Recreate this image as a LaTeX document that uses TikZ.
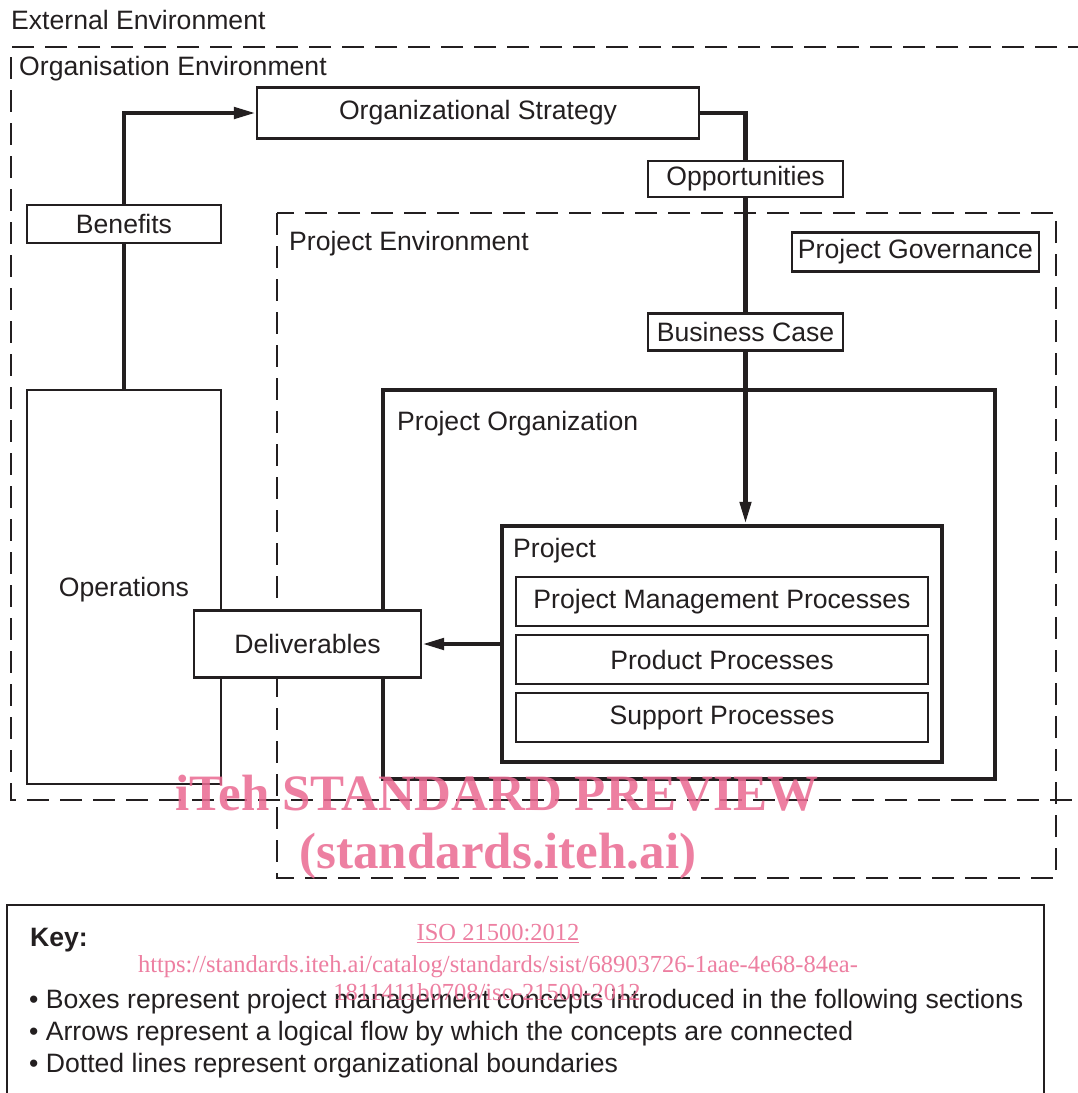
\documentclass[tikz,border=0pt]{standalone}
\usepackage{fontspec}
\setmainfont{Liberation Sans}
\newfontfamily\wmfont{Liberation Serif}
\usetikzlibrary{arrows.meta}
\definecolor{ink}{RGB}{35,31,32}
\definecolor{wmpink}{RGB}{234,105,145}
\begin{document}
\begin{tikzpicture}[x=1pt,y=-1pt,
  every node/.style={font=\fontsize{26.6}{30}\selectfont, text=ink},
  box/.style={draw=ink, line width=2.2pt, inner sep=0pt, fill=white},
  thickbox/.style={draw=ink, line width=4.5pt},
  envline/.style={draw=ink, line width=2.2pt, dash pattern=on 22pt off 11pt},
  flow/.style={draw=ink, line width=4.5pt},
  flowarrow/.style={draw=ink, line width=4.5pt, -{Triangle[length=22pt,width=11pt]}},
  lbl/.style={anchor=base west, inner sep=0pt},
  wm/.style={text=wmpink, opacity=0.85, inner sep=0pt, anchor=base}
]
\useasboundingbox (0,0) rectangle (1078,1093);
\fill[white] (0,0) rectangle (1078,1093);

% environments
\node[lbl] (extlbl) at (11,29) {External Environment};
\draw[envline] (1090,47) -- (11,47) -- (11,800) -- (1090,800);
\node[lbl] (orglbl) at (19,75) {Organisation Environment};
\draw[envline] (277,213) rectangle (1056,878);
\node[lbl] (prjenvlbl) at (289,250) {Project Environment};

% thick containers
\draw[thickbox] (383,390) rectangle (995,779);
\node[lbl] (porglbl) at (397,430) {Project Organization};
\node[thickbox, inner sep=0pt, minimum width=440pt, minimum height=236pt] (proj) at (722,644) {};
\node[lbl] (projlbl) at (513,557) {Project};

% boxes
\node[box, minimum width=442pt, minimum height=51pt] (strat) at (478,113) {Organizational Strategy};
\node[box, minimum width=194pt, minimum height=38pt] (ben) at (124,224) {Benefits};
\node[box, minimum width=194pt, minimum height=394pt] (ops) at (124,587) {};
\node[anchor=center, inner sep=0pt] (opslbl) at (124,590) {Operations};
\node[box, minimum width=195pt, minimum height=36pt] (opp) at (745.5,179) {Opportunities};
\node[box, minimum width=195pt, minimum height=37pt] (bcase) at (745.5,332) {Business Case};
\node[box, minimum width=247pt, minimum height=39pt] (gov) at (915.5,252) {Project Governance};
\node[box, minimum width=227pt, minimum height=67pt] (deliv) at (307.5,644) {Deliverables};
\node[box, minimum width=412pt, minimum height=49pt] (pmp) at (722,601.5) {Project Management Processes};
\node[box, minimum width=412pt, minimum height=49pt] (pp) at (722,659.5) {Product Processes};
\node[box, minimum width=412pt, minimum height=49pt] (sp) at (722,717.5) {Support Processes};

% connectors
\draw[flowarrow] (ben.north) |- (strat.west);
\draw[flow] (ben.south) -- (ops.north);
\draw[flow] (strat.east) -| (opp.north);
\draw[flow] (opp.south) -- (bcase.north);
\draw[flowarrow] (bcase.south) -- (bcase.south |- proj.north);
\draw[flowarrow] (proj.west |- deliv.east) -- (deliv.east);

% key
\draw[draw=ink, line width=2.2pt] (7,1100) -- (7,905) -- (1044,905) -- (1044,1100);
\node[lbl, font=\fontsize{26.6}{30}\selectfont\bfseries] (key) at (30,946) {Key:};
\node[lbl] (k1) at (29,1008) {• Boxes represent project management concepts introduced in the following sections};
\node[lbl] (k2) at (29,1040) {• Arrows represent a logical flow by which the concepts are connected};
\node[lbl] (k3) at (29,1072) {• Dotted lines represent organizational boundaries};

% watermark
\node[wm, font=\fontsize{51}{55}\wmfont\bfseries] (wm1) at (497,810) {iTeh STANDARD PREVIEW};
\node[wm, font=\fontsize{51}{55}\wmfont\bfseries] (wm2) at (498,868) {(standards.iteh.ai)};
\node[wm, font=\fontsize{24.5}{28}\wmfont] (wm3) at (498,940) {\underline{ISO 21500:2012}};
\node[wm, font=\fontsize{24.5}{28}\wmfont] (wm4) at (498,972) {https://standards.iteh.ai/catalog/standards/sist/68903726-1aae-4e68-84ea-};
\node[wm, font=\fontsize{24.5}{28}\wmfont] (wm5) at (487,1000) {1811411b0708/iso-21500-2012};
\end{tikzpicture}
\end{document}
